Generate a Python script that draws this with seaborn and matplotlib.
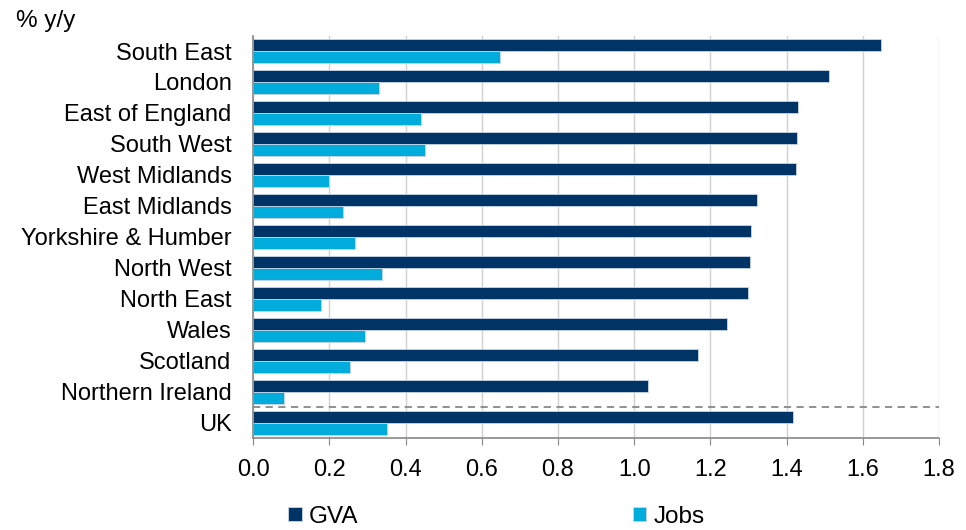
import numpy as np
import pandas as pd
import matplotlib.pyplot as plt
import seaborn as sns

regions = ['South East', 'London', 'East of England', 'South West', 'West Midlands',
           'East Midlands', 'Yorkshire & Humber', 'North West', 'North East', 'Wales',
           'Scotland', 'Northern Ireland', 'UK']
gva = [1.648, 1.511, 1.431, 1.428, 1.424, 1.323, 1.306, 1.305, 1.298, 1.245, 1.167, 1.037, 1.418]
jobs = [0.647, 0.331, 0.440, 0.452, 0.200, 0.236, 0.267, 0.337, 0.177, 0.295, 0.254, 0.081, 0.352]

df = pd.DataFrame({
    'region': regions * 2,
    'value': gva + jobs,
    'series': ['GVA'] * len(regions) + ['Jobs'] * len(regions),
})

sns.set_style('white')
plt.rcParams['font.family'] = ['Liberation Sans', 'DejaVu Sans']
plt.rcParams['text.color'] = 'black'
plt.rcParams['xtick.color'] = 'black'
plt.rcParams['ytick.color'] = 'black'

fig = plt.figure(figsize=(9.66, 5.30), dpi=100)
ax = fig.add_axes([0.262, 0.173, 0.710, 0.760])

sns.barplot(data=df, y='region', x='value', hue='series', orient='h',
            palette={'GVA': '#003366', 'Jobs': '#00ACDB'}, saturation=1, width=0.78,
            edgecolor='#c8d6e6', linewidth=0.6, ax=ax)

ax.set_xlim(0, 1.8)
ax.set_ylim(len(regions) - 0.5, -0.5)
ax.set_xticks(np.arange(0, 1.81, 0.2))
ax.set_xticklabels([f'{t:.1f}' for t in np.arange(0, 1.81, 0.2)])
ax.grid(axis='x', color='#d0d0d0', linewidth=1)
ax.set_axisbelow(True)
ax.axhline(11.5, color='#888888', linestyle='--', linewidth=1.3, dashes=(4, 3))

for s in ['top', 'right']:
    ax.spines[s].set_visible(False)
for s in ['left', 'bottom']:
    ax.spines[s].set_color('#888888')
    ax.spines[s].set_linewidth(1.2)

ax.tick_params(axis='x', which='major', bottom=True, length=5, color='#888888',
               labelsize=17, pad=10)
ax.tick_params(axis='y', left=False, labelsize=17, pad=12)
ax.set_xlabel('')
ax.set_ylabel('')

fig.text(0.017, 0.96, '% y/y', fontsize=17.5, ha='left', va='center')

handles, labels = ax.get_legend_handles_labels()
ax.get_legend().remove()
fig.legend(handles, labels, loc='center', bbox_to_anchor=(0.514, 0.025), ncol=2,
           frameon=False, fontsize=17.5, handlelength=0.55, handleheight=0.55,
           handletextpad=0.3, columnspacing=11.3)

fig.savefig('out.png', dpi=100)
